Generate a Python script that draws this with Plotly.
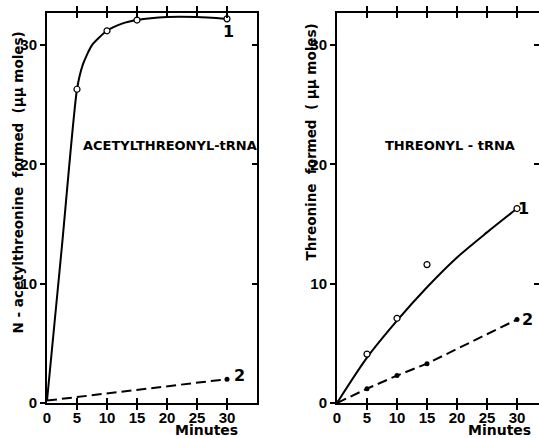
import plotly.graph_objects as go

# ---- data ----
minutes_pts = [5, 10, 15, 30]

# Left panel: acetylthreonyl-tRNA
acetyl_1_pts = [26.3, 31.2, 32.1, 32.2]
acetyl_1_curve_x = [0, 2.5, 5, 6, 7.5, 10, 12.5, 15, 20, 25, 30]
acetyl_1_curve_y = [0.2, 13.2, 26.3, 28.4, 30.0, 31.2, 31.8, 32.1, 32.35, 32.35, 32.2]
acetyl_2_x = [0, 30]
acetyl_2_y = [0.2, 2.0]

# Right panel: threonyl-tRNA
thr_1_pts = [4.1, 7.1, 11.6, 16.3]
thr_1_curve_x = [0, 5, 10, 15, 20, 25, 30]
thr_1_curve_y = [0.0, 3.8, 6.9, 9.7, 12.2, 14.3, 16.3]
thr_2_x = [0, 5, 10, 15, 30]
thr_2_y = [0.0, 1.2, 2.3, 3.3, 7.0]

x_ticks = [0, 5, 10, 15, 20, 25, 30]
y_ticks = [0, 10, 20, 30]

FONT = "DejaVu Sans"
TICKFONT = "Liberation Sans"
W, H = 539, 438

fig = go.Figure()

line_solid = dict(color="black", width=2)
line_dash = dict(color="black", width=2, dash="10px,5px")
open_marker = dict(symbol="circle", size=6, color="white", line=dict(width=1.2, color="black"))
fill_marker = dict(symbol="circle", size=5, color="black")

# left panel
fig.add_trace(go.Scatter(x=acetyl_1_curve_x, y=acetyl_1_curve_y, mode="lines",
                         line=dict(**line_solid, shape="spline", smoothing=0.6),
                         xaxis="x", yaxis="y", hoverinfo="skip"))
fig.add_trace(go.Scatter(x=minutes_pts, y=acetyl_1_pts, mode="markers", marker=open_marker,
                         xaxis="x", yaxis="y"))
fig.add_trace(go.Scatter(x=acetyl_2_x, y=acetyl_2_y, mode="lines", line=line_dash,
                         xaxis="x", yaxis="y"))
fig.add_trace(go.Scatter(x=acetyl_2_x[-1:], y=acetyl_2_y[-1:], mode="markers", marker=fill_marker,
                         xaxis="x", yaxis="y"))

# right panel
fig.add_trace(go.Scatter(x=thr_1_curve_x, y=thr_1_curve_y, mode="lines",
                         line=dict(**line_solid, shape="spline", smoothing=0.8),
                         xaxis="x2", yaxis="y2", hoverinfo="skip"))
fig.add_trace(go.Scatter(x=minutes_pts, y=thr_1_pts, mode="markers", marker=open_marker,
                         xaxis="x2", yaxis="y2"))
fig.add_trace(go.Scatter(x=thr_2_x, y=thr_2_y, mode="lines+markers", line=line_dash,
                         marker=fill_marker, xaxis="x2", yaxis="y2"))

ydom = [(H - 403) / H, (H - 13) / H]
xdom1 = [47 / W, 257 / W]
xdom2 = [337 / W, 1.0]
yrange = [0, 390 / 11.93]

tickfont = dict(family=TICKFONT, size=15, color="black", weight="bold")

def xax(domain, rng, anchor):
    return dict(domain=domain, range=rng, tickvals=x_ticks, ticks="inside", ticklen=5,
                tickwidth=1.5, tickcolor="black", showline=True, linewidth=2, linecolor="black",
                mirror="allticks", showgrid=False, zeroline=False, anchor=anchor,
                tickfont=tickfont, fixedrange=True, automargin=False,
                ticklabelstandoff=0)

def yax(rng, anchor):
    return dict(domain=ydom, range=rng, tickvals=y_ticks, ticks="outside", ticklen=5,
                tickwidth=1.5, tickcolor="black", showline=True, linewidth=2, linecolor="black",
                mirror=True, showgrid=False, zeroline=False, anchor=anchor,
                tickfont=tickfont, fixedrange=True, automargin=False,
                ticklabelstandoff=0)

def yright(over, anchor):
    return dict(overlaying=over, side="right", anchor=anchor, range=yrange,
                tickvals=y_ticks[1:], ticks="inside", ticklen=5, tickwidth=1.5,
                tickcolor="black", showticklabels=False, showline=False,
                showgrid=False, zeroline=False, fixedrange=True, automargin=False)

fig.update_layout(
    width=W, height=H,
    margin=dict(l=0, r=0, t=0, b=0, autoexpand=False),
    paper_bgcolor="white", plot_bgcolor="white",
    showlegend=False,
    font=dict(family=FONT, color="black"),
    xaxis=xax(xdom1, [0, 35], "y"),
    yaxis=yax(yrange, "x"),
    xaxis2=xax(xdom2, [0, (W - 337) / 6], "y2"),
    yaxis2=yax(yrange, "x2"),
    yaxis3=yright("y", "x"),
    yaxis4=yright("y2", "x2"),
)
# dummy traces to activate right-side tick axes
fig.add_trace(go.Scatter(x=[None], y=[None], xaxis="x", yaxis="y3", showlegend=False))
fig.add_trace(go.Scatter(x=[None], y=[None], xaxis="x2", yaxis="y4", showlegend=False))

bold = lambda s: "<b>" + s + "</b>"

def a(text, x, y, xref, yref, size, angle=0):
    return dict(text=bold(text), x=x, y=y, xref=xref, yref=yref, showarrow=False,
                xanchor="center", yanchor="middle", textangle=angle,
                font=dict(family=FONT, size=size))

ann = [
    a("ACETYLTHREONYL-tRNA", 20.5, 21.6, "x", "y", 13),
    a("THREONYL - tRNA", 18.9, 21.6, "x2", "y2", 13),
    a("1", 30.2, 31.1, "x", "y", 16),
    a("2", 32.0, 2.3, "x", "y", 16),
    a("1", 31.0, 16.3, "x2", "y2", 16),
    a("2", 31.8, 7.0, "x2", "y2", 16),
    a("N - acetylthreonine  formed  (μμ moles)", 18.0 / W, (H - 182.5) / H, "paper", "paper", 13.5, -90),
    a("Threonine  formed  ( μμ moles)", 310 / W, (H - 142.5) / H, "paper", "paper", 13.5, -90),
    a("Minutes", 206.7 / W, (H - 430) / H, "paper", "paper", 14),
    a("Minutes", 499 / W, (H - 430) / H, "paper", "paper", 14),
]
fig.update_layout(annotations=ann)

fig.write_html("out.html", config={"displayModeBar": False},
               post_script="document.body.style.margin='0';document.body.style.padding='0';")
